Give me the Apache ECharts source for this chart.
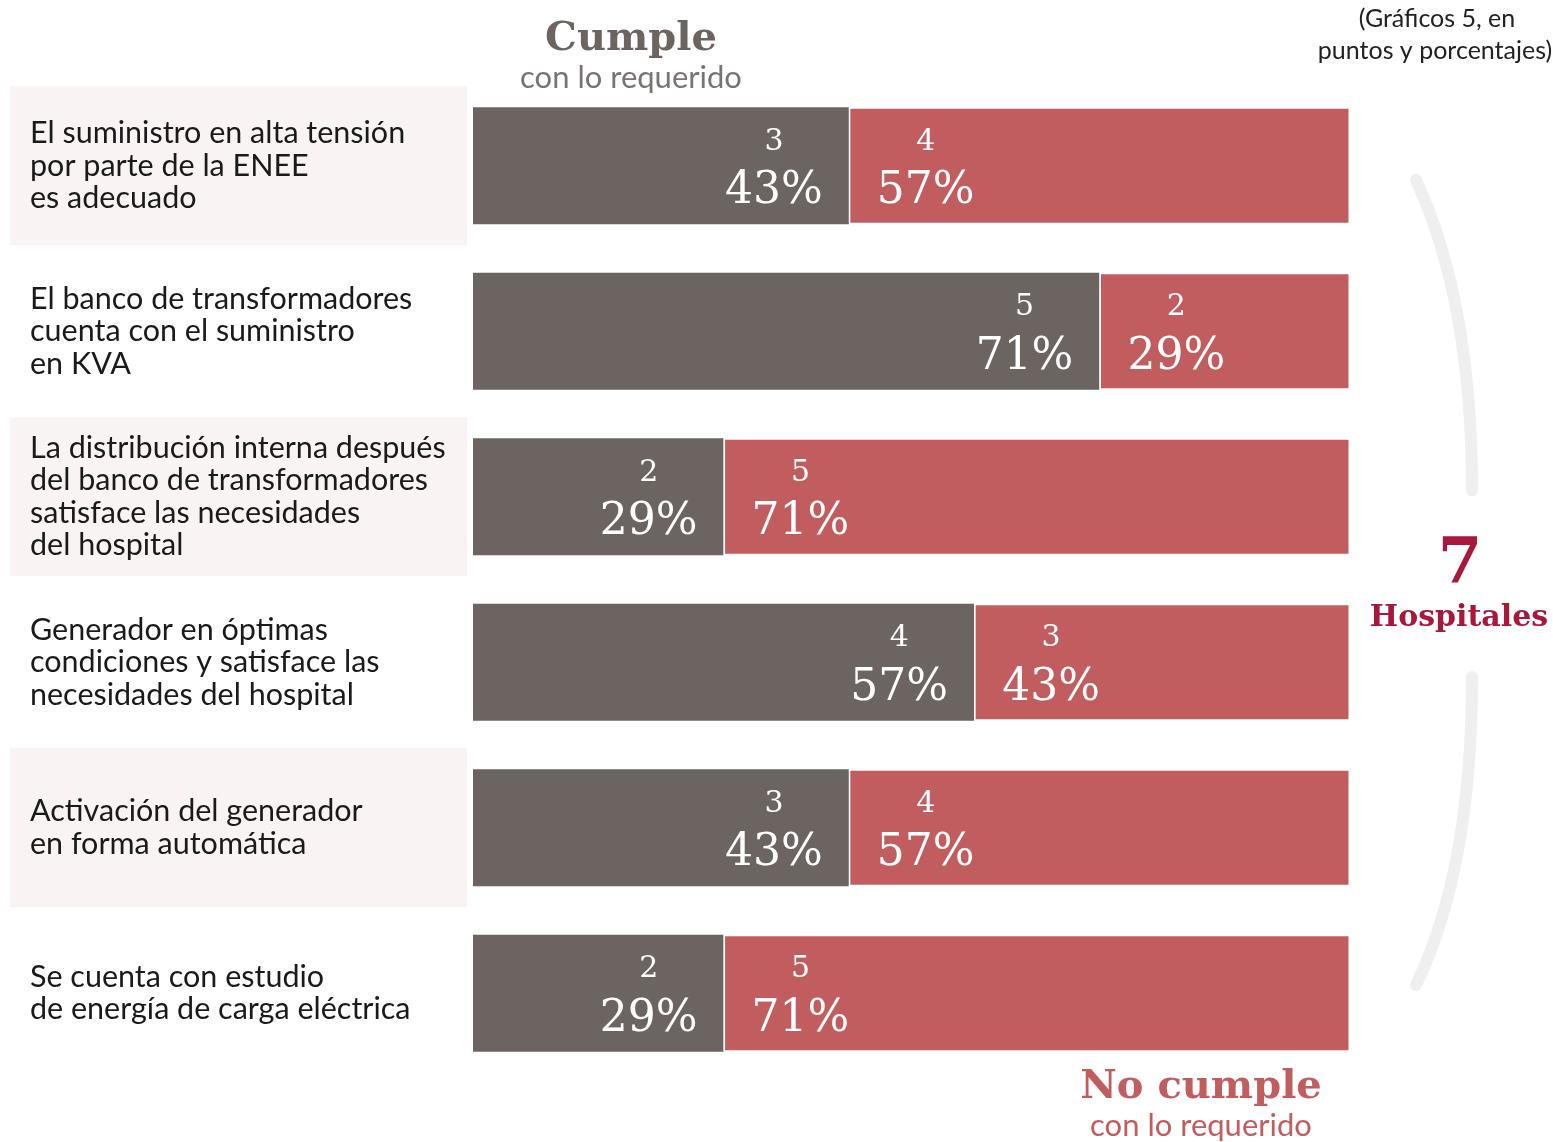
<!DOCTYPE html>
<html><head><meta charset="utf-8">
<script src="https://cdn.jsdelivr.net/npm/echarts@6/dist/echarts.min.js"></script>
<style>html,body{margin:0;padding:0;background:#fff}#c{width:1553px;height:1142px}</style>
</head><body><div id="c"></div>
<script>
const categories = [
  "El suministro en alta tensión\npor parte de la ENEE\nes adecuado",
  "El banco de transformadores\ncuenta con el suministro\nen KVA",
  "La distribución interna después\ndel banco de transformadores\nsatisface las necesidades\ndel hospital",
  "Generador en óptimas\ncondiciones y satisface las\nnecesidades del hospital",
  "Activación del generador\nen forma automática",
  "Se cuenta con estudio\nde energía de carga eléctrica"
];
const cumple = [3, 5, 2, 4, 3, 2];
const noCumple = [4, 2, 5, 3, 4, 5];
const pctCumple = ["43%", "71%", "29%", "57%", "43%", "29%"];
const pctNoCumple = ["57%", "29%", "71%", "43%", "57%", "71%"];
const rowShade = [1, 0, 1, 0, 1, 0];
const totalHospitals = 7;

const GREY = "#6b6461", RED = "#c25d5f", CRIMSON = "#a6193b";
const LABEL_FONT = "Lato";
const NUM_FONT = "DejaVu Serif";

const chart = echarts.init(document.getElementById("c"), null, {renderer: "canvas"});

const numRich = {
  n: {fontFamily: NUM_FONT, fontSize: 30, color: "#fff", lineHeight: 44, align: "center"},
  p: {fontFamily: NUM_FONT, fontSize: 44, color: "#fff", lineHeight: 56, align: "center"}
};

chart.setOption({
  animation: false,
  backgroundColor: "#fff",
  grid: [
    {left: 473, right: 203, top: 83, bottom: 66},
    {left: 10, width: 457, top: 83, bottom: 66}
  ],
  xAxis: [
    {gridIndex: 0, type: "value", min: 0, max: totalHospitals, show: false},
    {gridIndex: 1, type: "value", min: 0, max: 1, show: false}
  ],
  yAxis: [
    {gridIndex: 0, type: "category", data: categories, inverse: true,
     axisLine: {show: false}, axisTick: {show: false},
     axisLabel: {align: "left", margin: 443, fontFamily: LABEL_FONT, fontSize: 30.5,
                 lineHeight: 32.5, color: "#1a1a1a", padding: [6, 0, 0, 0]}},
    {gridIndex: 1, type: "category", data: categories, inverse: true, show: false}
  ],
  series: [
    {type: "bar", xAxisIndex: 1, yAxisIndex: 1, barWidth: 159, silent: true,
     data: rowShade.map(v => ({value: 1, itemStyle: {color: v ? "#f9f3f3" : "rgba(0,0,0,0)"}})),
     z: 0},
    {name: "Cumple", type: "bar", stack: "t", barWidth: 117, xAxisIndex: 0, yAxisIndex: 0,
     itemStyle: {color: GREY},
     data: cumple,
     label: {show: true, position: "insideRight", distance: 26, offset: [0, 4],
             formatter: p => "{n|" + cumple[p.dataIndex] + "}\n{p|" + pctCumple[p.dataIndex] + "}",
             rich: numRich}},
    {name: "No cumple", type: "bar", stack: "t", barWidth: 117, xAxisIndex: 0, yAxisIndex: 0,
     itemStyle: {color: RED, borderColor: "#fff", borderWidth: 1.5},
     data: noCumple,
     label: {show: true, position: "insideLeft", distance: 28, offset: [0, 4],
             formatter: p => "{n|" + noCumple[p.dataIndex] + "}\n{p|" + pctNoCumple[p.dataIndex] + "}",
             rich: numRich}}
  ],
  graphic: [
    {type: "text", style: {text: "Cumple", x: 631, y: 40, fill: GREY, font: "bold 40px 'DejaVu Serif'",
      textAlign: "center", textVerticalAlign: "middle"}},
    {type: "text", style: {text: "con lo requerido", x: 631, y: 78, fill: "#7a7371",
      font: "31px " + LABEL_FONT, textAlign: "center", textVerticalAlign: "middle"}},
    {type: "text", style: {text: "No cumple", x: 1201, y: 1088, fill: RED,
      font: "bold 40px 'DejaVu Serif'", textAlign: "center", textVerticalAlign: "middle"}},
    {type: "text", style: {text: "con lo requerido", x: 1201, y: 1126, fill: RED,
      font: "31px " + LABEL_FONT, textAlign: "center", textVerticalAlign: "middle"}},
    {type: "text", style: {text: "(Gráficos 5, en", x: 1437, y: 19, fill: "#222",
      font: "25px " + LABEL_FONT, textAlign: "center", textVerticalAlign: "middle"}},
    {type: "text", style: {text: "puntos y porcentajes)", x: 1435, y: 51, fill: "#222",
      font: "25px " + LABEL_FONT, textAlign: "center", textVerticalAlign: "middle"}},
    {type: "text", style: {text: String(totalHospitals), x: 1460, y: 566, fill: CRIMSON,
      font: "bold 64px 'DejaVu Serif'", textAlign: "center", textVerticalAlign: "middle"}},
    {type: "text", style: {text: "Hospitales", x: 1459, y: 618, fill: CRIMSON,
      font: "bold 30px 'DejaVu Serif'", textAlign: "center", textVerticalAlign: "middle"}},
    {type: "bezierCurve", shape: {x1: 1416, y1: 180, cpx1: 1462, cpy1: 280, cpx2: 1472, cpy2: 400, x2: 1472, y2: 490},
     style: {stroke: "#efefef", lineWidth: 12, lineCap: "round", fill: null}},
    {type: "bezierCurve", shape: {x1: 1472, y1: 677, cpx1: 1472, cpy1: 770, cpx2: 1462, cpy2: 890, x2: 1416, y2: 985},
     style: {stroke: "#efefef", lineWidth: 12, lineCap: "round", fill: null}}
  ]
});
</script></body></html>
